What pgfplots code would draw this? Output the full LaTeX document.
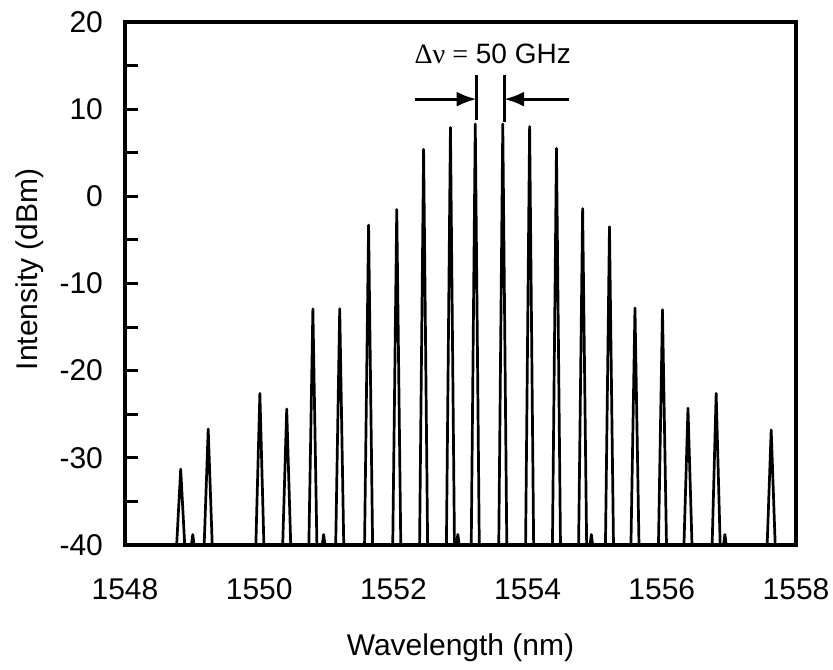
\documentclass[border=0pt]{standalone}
\usepackage{fontspec}
\setmainfont{Liberation Sans}
\newfontfamily\seriffont{Liberation Serif}
\usepackage{pgfplots}
\pgfplotsset{compat=1.18}
\usetikzlibrary{arrows.meta}
\begin{document}
\begin{tikzpicture}
\begin{axis}[
  name=ax,
  scale only axis,
  width=335.5pt, height=261.5pt,
  xmin=1548, xmax=1558, ymin=-40, ymax=20,
  xtick={1548,1550,1552,1554,1556,1558},
  xticklabels={1548,1550,1552,1554,1556,1558},
  ytick={-40,-30,-20,-10,0,10,20},
  yticklabels={-40,-30,-20,-10,0,10,20},
  minor y tick num=1,
  xtick pos=bottom, ytick pos=left,
  tick align=inside,
  major tick length=6.5pt, minor tick length=6.5pt,
  xtick style={draw=none},
  ytick style={line width=1.5pt, black},
  minor y tick style={line width=1.5pt, black},
  axis line style={line width=1.6pt},
  tick label style={font=\fontsize{15}{18}\selectfont},
  xticklabel style={yshift=-13pt, text height=10.8pt, text depth=0pt},
  yticklabel style={xshift=-7.5pt},
  xlabel={Wavelength (nm)},
  ylabel={Intensity (dBm)},
  label style={font=\fontsize{15}{18}\selectfont},
  xlabel style={at={(axis description cs:0.5,-0.157)}, anchor=north},
  ylabel style={at={(axis description cs:-0.1103,0.527)}, anchor=south, rotate=0},
  clip=true,
]
\addplot[black, line width=1.35pt, line join=round] coordinates {
(1548.00,-40)
(1548.77,-40)(1548.83,-31.3)(1548.89,-40)
(1548.99,-40)(1549.01,-38.8)(1549.03,-40)
(1549.18,-40)(1549.24,-26.7)(1549.30,-40)
(1549.95,-40)(1550.01,-22.6)(1550.07,-40)
(1550.35,-40)(1550.41,-24.4)(1550.47,-40)
(1550.74,-40)(1550.80,-12.9)(1550.86,-40)
(1550.94,-40)(1550.96,-38.8)(1550.98,-40)
(1551.14,-40)(1551.20,-12.9)(1551.26,-40)
(1551.57,-40)(1551.63,-3.3)(1551.69,-40)
(1551.99,-40)(1552.05,-1.5)(1552.11,-40)
(1552.39,-40)(1552.45,5.4)(1552.51,-40)
(1552.79,-40)(1552.85,7.9)(1552.91,-40)
(1552.94,-40)(1552.96,-38.8)(1552.98,-40)
(1553.16,-40)(1553.22,8.3)(1553.28,-40)
(1553.57,-40)(1553.63,8.3)(1553.69,-40)
(1553.97,-40)(1554.03,8.0)(1554.09,-40)
(1554.37,-40)(1554.43,5.5)(1554.49,-40)
(1554.76,-40)(1554.82,-1.4)(1554.88,-40)
(1554.93,-40)(1554.95,-38.8)(1554.97,-40)
(1555.16,-40)(1555.22,-3.5)(1555.28,-40)
(1555.54,-40)(1555.60,-12.8)(1555.66,-40)
(1555.95,-40)(1556.01,-13.0)(1556.07,-40)
(1556.33,-40)(1556.39,-24.3)(1556.45,-40)
(1556.75,-40)(1556.81,-22.6)(1556.87,-40)
(1556.92,-40)(1556.94,-38.8)(1556.96,-40)
(1557.57,-40)(1557.63,-26.8)(1557.69,-40)
(1558.00,-40)
};
\node[font=\fontsize{14}{16}\selectfont, inner sep=0pt] at (axis cs:1553.48,16.4) {{\seriffont Δν =} 50 GHz};
\draw[line width=1.5pt] (axis cs:1553.24,13.9) -- (axis cs:1553.24,8.7);
\draw[line width=1.5pt] (axis cs:1553.65,13.9) -- (axis cs:1553.65,8.5);
\draw[line width=1.5pt, -{Latex[length=10pt,width=7.5pt]}] (axis cs:1552.32,11.15) -- (axis cs:1553.24,11.15);
\draw[line width=1.5pt, -{Latex[length=10pt,width=7.5pt]}] (axis cs:1554.62,11.15) -- (axis cs:1553.65,11.15);
\end{axis}
\pgfresetboundingbox
\path ([shift={(-62.5pt,-62.5pt)}]ax.south west) rectangle ([shift={(18.5pt,11pt)}]ax.north east);
\end{tikzpicture}
\end{document}
